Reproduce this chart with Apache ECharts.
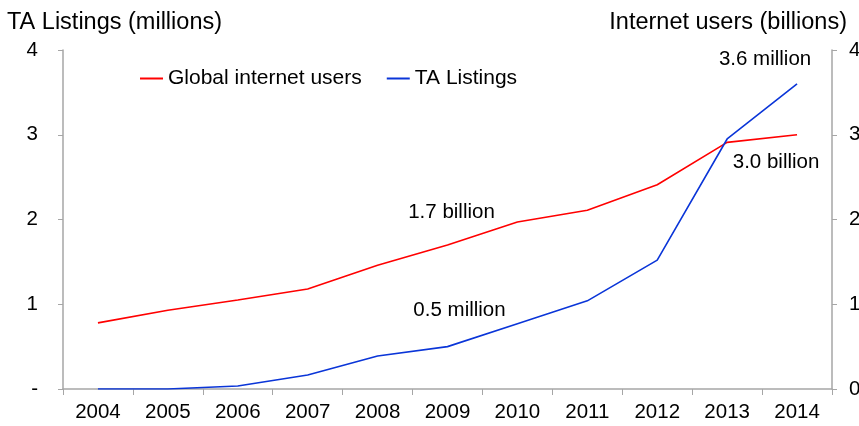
<!DOCTYPE html>
<html>
<head>
<meta charset="utf-8">
<script src="https://cdn.jsdelivr.net/npm/echarts@6/dist/echarts.min.js"></script>
<style>
  html, body { margin: 0; padding: 0; background: #fff; }
  #chart { width: 859px; height: 426px; }
</style>
</head>
<body>
<div id="chart"></div>
<script>
// Years on the category axis
const years = ['2004', '2005', '2006', '2007', '2008', '2009', '2010', '2011', '2012', '2013', '2014'];
// Global internet users, billions (right axis)
const internetUsers = [0.78, 0.93, 1.05, 1.18, 1.46, 1.7, 1.97, 2.11, 2.41, 2.91, 3.0];
// TA listings, millions (left axis)
const taListings = [0, 0, 0.035, 0.165, 0.39, 0.5, 0.77, 1.04, 1.52, 2.95, 3.6];
// Annotated points: index -> label text
const userNotes = { 5: '1.7 billion', 10: '3.0 billion' };
const listingNotes = { 5: '0.5 million', 10: '3.6 million' };

const FONT = 'Liberation Sans, Arial, sans-serif';
const AXIS_GREY = '#a6a6a6';
const TICK_FONT = 20.5;

function withNotes(values, notes, offsets) {
  return values.map((v, i) => {
    if (!(i in notes)) return v;
    return {
      value: v,
      label: {
        show: true,
        formatter: notes[i],
        position: 'inside',
        offset: offsets[i],
        color: '#000',
        fontFamily: FONT,
        fontSize: TICK_FONT
      }
    };
  });
}

const chart = echarts.init(document.getElementById('chart'));
chart.setOption({
  animation: false,
  textStyle: { fontFamily: FONT },
  grid: { left: 63, right: 27, top: 50, bottom: 37, containLabel: false, outerBoundsMode: 'none' },
  legend: {
    top: 63,
    left: 135,
    itemWidth: 23,
    itemHeight: 2,
    itemGap: 25,
    icon: 'rect',
    textStyle: { fontFamily: FONT, fontSize: 21, color: '#000' },
    data: ['Global internet users', 'TA Listings']
  },
  xAxis: {
    type: 'category',
    data: years,
    boundaryGap: true,
    axisLine: { lineStyle: { color: AXIS_GREY, width: 1.5 } },
    axisTick: { show: true, alignWithLabel: false, length: 6, lineStyle: { color: AXIS_GREY } },
    axisLabel: { color: '#000', fontSize: TICK_FONT, margin: 13, fontFamily: FONT }
  },
  yAxis: [
    {
      type: 'value',
      min: 0, max: 4, interval: 1,
      position: 'left',
      name: 'TA Listings (millions)',
      nameLocation: 'end',
      nameGap: 15,
      nameTextStyle: { color: '#000', fontSize: 23.5, fontFamily: FONT, align: 'left', padding: [0, 0, 0, -56] },
      axisLine: { show: true, lineStyle: { color: AXIS_GREY, width: 1.5 } },
      axisTick: { show: true, length: 5, lineStyle: { color: AXIS_GREY } },
      splitLine: { show: false },
      axisLabel: {
        color: '#000', fontSize: TICK_FONT, margin: 25, fontFamily: FONT,
        formatter: v => (v === 0 ? '-' : String(v))
      }
    },
    {
      type: 'value',
      min: 0, max: 4, interval: 1,
      position: 'right',
      name: 'Internet users (billions)',
      nameLocation: 'end',
      nameGap: 15,
      nameTextStyle: { color: '#000', fontSize: 23.5, fontFamily: FONT, align: 'right', padding: [0, -15, 0, 0] },
      axisLine: { show: true, lineStyle: { color: AXIS_GREY, width: 1.5 } },
      axisTick: { show: true, length: 5, lineStyle: { color: AXIS_GREY } },
      splitLine: { show: false },
      axisLabel: { color: '#000', fontSize: TICK_FONT, margin: 17, fontFamily: FONT }
    }
  ],
  series: [
    {
      name: 'Global internet users',
      type: 'line',
      yAxisIndex: 1,
      data: withNotes(internetUsers, userNotes, { 5: [4, -33], 10: [-21, 28] }),
      symbol: 'circle',
      symbolSize: 0.1,
      showAllSymbol: true,
      lineStyle: { color: '#ff0000', width: 1.6 },
      itemStyle: { color: '#ff0000' },
      z: 3
    },
    {
      name: 'TA Listings',
      type: 'line',
      yAxisIndex: 0,
      data: withNotes(taListings, listingNotes, { 5: [12, -36], 10: [-32, -25] }),
      symbol: 'circle',
      symbolSize: 0.1,
      showAllSymbol: true,
      lineStyle: { color: '#0a35d8', width: 1.6 },
      itemStyle: { color: '#0a35d8' },
      z: 4
    }
  ]
});
</script>
</body>
</html>
